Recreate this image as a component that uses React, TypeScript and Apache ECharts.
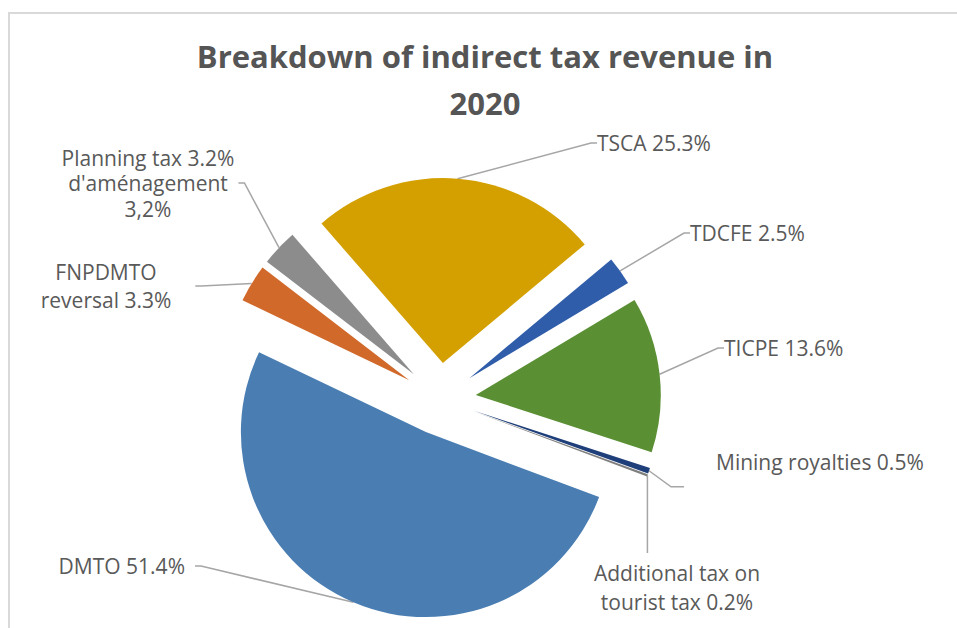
import React, { useEffect, useRef } from "react";
import * as echarts from "echarts";

// ---- Data ----
const categories = [
  "TSCA",
  "TDCFE",
  "TICPE",
  "Mining royalties",
  "Additional tax on tourist tax",
  "DMTO",
  "FNPDMTO reversal",
  "Planning tax",
];
const values = [25.3, 2.5, 13.6, 0.5, 0.2, 51.4, 3.3, 3.2];
const labelNames = [
  "TSCA",
  "TDCFE",
  "TICPE",
  "Mining royalties",
  "Additional tax on\ntourist tax",
  "DMTO",
  "FNPDMTO\nreversal",
  "Planning tax",
];
const labelExtras = ["", "", "", "", "", "", "", "\nd'aménagement\n3,2%"];
const titleText = "Breakdown of indirect tax revenue in\n2020";

// ---- Styles / layout ----
const colors = ["#D4A000", "#2F5DAA", "#5A8F33", "#1F3F7A", "#7F7F7F", "#4A7EB3", "#D0692A", "#8C8C8C"];
const CX = 440;
const CY = 399;
const RADIUS = 185;
const EXPLODE = 36;
const START_ANGLE = 131; // echarts degrees (counter-clockwise from 3 o'clock)
// label anchor: [x, y, align, lineHeight, padding-right]
const labelPlacement: [number, number, string, number, number][] = [
  [597, 143, "left", 28, 0],
  [690, 233, "left", 28, 0],
  [724, 348, "left", 28, 0],
  [716, 462, "left", 28, 0],
  [677, 587, "center", 29, 0],
  [195, 566, "right", 28, 10],
  [118, 286, "center", 28, 24],
  [150, 183, "center", 25.5, 4],
];

export default function App() {
  const ref = useRef<HTMLDivElement>(null);
  useEffect(() => {
    document.body.style.margin = "0";
    const chart = echarts.init(ref.current!, null, { renderer: "svg" });
    const total = values.reduce((a, b) => a + b, 0);
    let cum = 0;
    const centers = values.map((v) => {
      const midFrac = (cum + v / 2) / total;
      cum += v;
      const ang = ((START_ANGLE - midFrac * 360) * Math.PI) / 180;
      return [CX + EXPLODE * Math.cos(ang), CY - EXPLODE * Math.sin(ang)];
    });

    const series = values.map((_, si) => ({
      type: "pie",
      center: centers[si],
      radius: RADIUS,
      startAngle: START_ANGLE,
      clockwise: true,
      silent: true,
      avoidLabelOverlap: false,
      emphasis: { disabled: true },
      itemStyle: { borderWidth: 0 },
      data: values.map((v, i) => ({
        value: v,
        name: categories[i],
        itemStyle: { color: i === si ? colors[i] : "rgba(0,0,0,0)", borderWidth: 0 },
        label: {
          show: i === si,
          lineHeight: labelPlacement[i][3],
          padding: [0, labelPlacement[i][4], 0, 0],
        },
        labelLine: { show: i === si },
      })),
      label: {
        position: "outside",
        formatter: (p: any) => `${labelNames[p.dataIndex]} ${values[p.dataIndex]}%${labelExtras[p.dataIndex]}`,
        fontFamily: "Open Sans",
        fontSize: 21,
        color: "#595959",
      },
      labelLine: {
        length: 12,
        length2: 6,
        lineStyle: { color: "#A6A6A6", width: 1.5 },
      },
      labelLayout: (params: any) => {
        const i = params.dataIndex;
        const p = labelPlacement[i];
        const res: any = { x: p[0], y: p[1], align: p[2], verticalAlign: "middle" };
        const a = params.labelLinePoints && params.labelLinePoints[0];
        if (a && i === 4) {
          const top = p[1] - p[3] - 5;
          res.labelLinePoints = [a, [a[0], top], [a[0], top]];
        } else if (a && i === 3) {
          res.labelLinePoints = [a, [a[0] + 22, a[1] + 16], [a[0] + 35, a[1] + 16]];
        }
        return res;
      },
    }));

    const option: any = {
      animation: false,
      backgroundColor: "#ffffff",
      title: {
        text: titleText,
        left: 485,
        top: 32,
        padding: 0,
        textAlign: "center",
        textStyle: {
          fontFamily: "Open Sans",
          fontWeight: "bold",
          fontSize: 31,
          color: "#555555",
          lineHeight: 47,
        },
      },
      graphic: [
        {
          type: "rect",
          silent: true,
          shape: { x: 9, y: 13, width: 1200, height: 1200 },
          style: { fill: "none", stroke: "#D9D9D9", lineWidth: 2 },
        },
      ],
      series,
    };
    chart.setOption(option);
    return () => chart.dispose();
  }, []);
  return <div ref={ref} style={{ width: 957, height: 628 }} />;
}
